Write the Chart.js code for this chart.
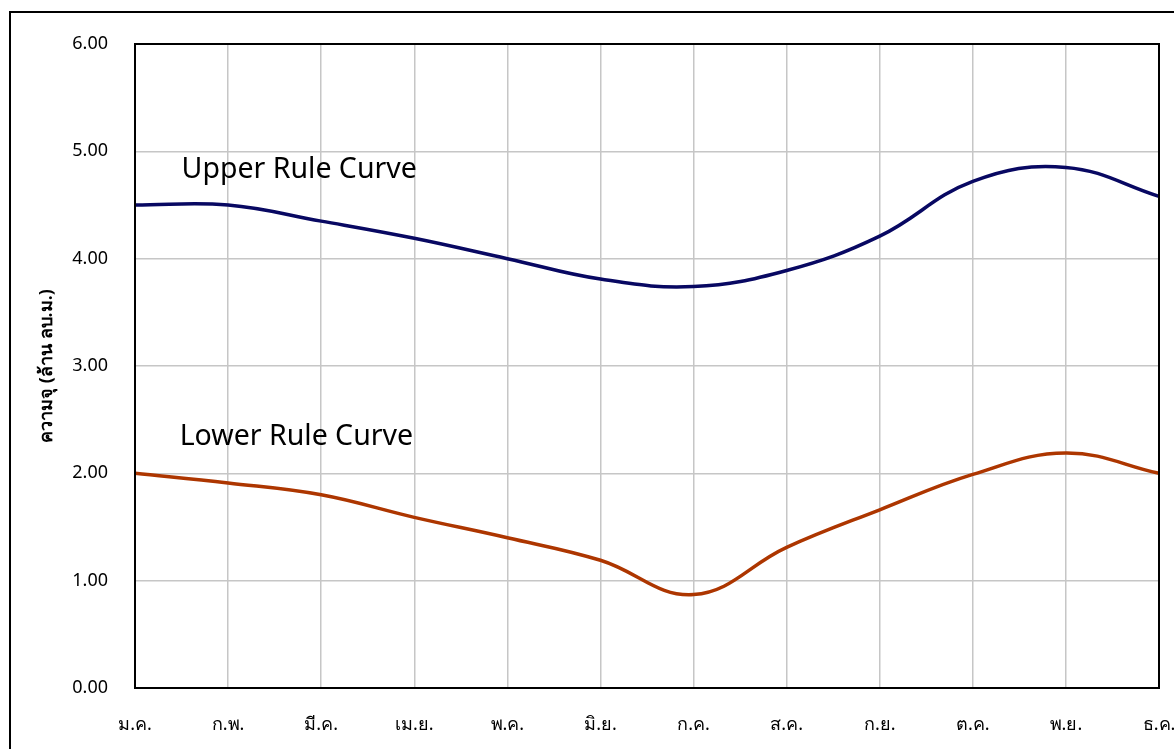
<!DOCTYPE html>
<html>
<head>
<meta charset="utf-8">
<script src="https://cdn.jsdelivr.net/npm/chart.js@4.4.1/dist/chart.umd.min.js"></script>
<style>
  html, body { margin: 0; padding: 0; background: #fff; overflow: hidden; }
  #frame { position: absolute; left: 9px; top: 11px; width: 1200px; height: 800px; border: 2px solid #000; }
  #wrap { position: absolute; left: 0; top: 0; width: 1174px; height: 749px; }
</style>
</head>
<body>
<div id="frame"></div>
<div id="wrap"><canvas id="grafica"></canvas></div>
<script>
const meses = ['ม.ค.', 'ก.พ.', 'มี.ค.', 'เม.ย.', 'พ.ค.', 'มิ.ย.', 'ก.ค.', 'ส.ค.', 'ก.ย.', 'ต.ค.', 'พ.ย.', 'ธ.ค.'];
const upper_rule = [4.50, 4.50, 4.35, 4.19, 4.00, 3.81, 3.74, 3.89, 4.21, 4.72, 4.85, 4.58];
const lower_rule = [2.00, 1.91, 1.80, 1.59, 1.40, 1.19, 0.87, 1.31, 1.66, 1.99, 2.19, 2.00];
const y_ticks = [0, 1, 2, 3, 4, 5, 6];
// text labels placed in data units (category index, value)
const etiquetas = [
    { text: 'Upper Rule Curve', x: 0.5, y: 4.83 },
    { text: 'Lower Rule Curve', x: 0.48, y: 2.34 }
];

const fuente = "Tahoma, 'Noto Sans', 'DejaVu Sans', sans-serif";

const textos = {
    id: 'textos',
    afterDatasetsDraw(chart) {
        const c = chart.ctx;
        const a = chart.chartArea;
        c.save();
        c.strokeStyle = '#000';
        c.lineWidth = 2;
        c.strokeRect(a.left, a.top, a.right - a.left, a.bottom - a.top);
        c.fillStyle = '#000';
        c.font = '28.5px ' + fuente;
        c.textAlign = 'left';
        c.textBaseline = 'middle';
        etiquetas.forEach(e => {
            c.fillText(e.text, chart.scales.x.getPixelForValue(e.x), chart.scales.y.getPixelForValue(e.y));
        });
        c.restore();
    }
};

const ctx = document.getElementById('grafica');
new Chart(ctx, {
    type: 'line',
    data: {
        labels: meses,
        datasets: [{
            label: 'Upper Rule Curve',
            data: upper_rule,
            borderColor: '#080862',
            borderWidth: 3.5,
            pointRadius: 0,
            tension: 0.4,
            fill: false
        }, {
            label: 'Lower Rule Curve',
            data: lower_rule,
            borderColor: '#ad3600',
            borderWidth: 3.5,
            pointRadius: 0,
            tension: 0.4,
            fill: false
        }]
    },
    options: {
        responsive: true,
        maintainAspectRatio: false,
        animation: false,
        layout: { padding: { top: 44, right: 15, left: 0, bottom: 0 } },
        plugins: {
            legend: { display: false },
            tooltip: { enabled: false }
        },
        scales: {
            x: {
                offset: false,
                grid: { color: '#c6c6c6', lineWidth: 1.5, drawTicks: false },
                border: { color: '#000', width: 2 },
                ticks: {
                    color: '#000',
                    font: { family: fuente, size: 18 },
                    padding: 26,
                    maxRotation: 0,
                    autoSkip: false
                },
                afterFit: function(scale) {
                    scale.height = 61;
                    scale.paddingLeft = 0;
                    scale.paddingRight = 0;
                }
            },
            y: {
                min: 0,
                max: 6,
                afterBuildTicks: function(scale) {
                    scale.ticks = y_ticks.map(v => ({ value: v }));
                },
                grid: { color: '#c6c6c6', lineWidth: 1.5, drawTicks: false },
                border: { color: '#000', width: 2 },
                ticks: {
                    color: '#000',
                    font: { family: fuente, size: 18 },
                    padding: 27,
                    callback: function(value) {
                        return parseFloat(value).toFixed(2);
                    }
                },
                title: {
                    display: true,
                    text: 'ความจุ (ล้าน ลบ.ม.)',
                    color: '#000',
                    font: { family: fuente, size: 18, weight: 'bold' },
                    padding: { top: 36, bottom: 0 }
                },
                afterFit: function(scale) {
                    scale.width = 135;
                    scale.paddingTop = 0;
                    scale.paddingBottom = 0;
                }
            }
        }
    },
    plugins: [textos]
});
</script>
</body>
</html>
